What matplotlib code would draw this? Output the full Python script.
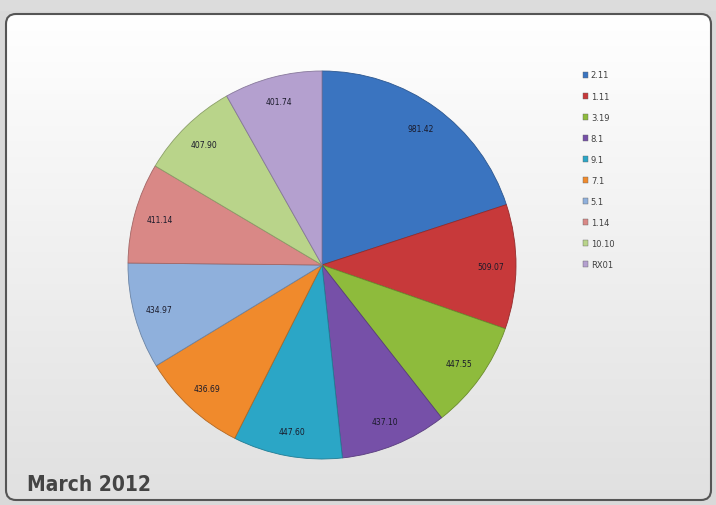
import numpy as np
import matplotlib
matplotlib.use("Agg")
import matplotlib.pyplot as plt
from matplotlib.patches import FancyBboxPatch, Rectangle, Patch

# data
labels = ["2.11", "1.11", "3.19", "8.1", "9.1", "7.1", "5.1", "1.14", "10.10", "RX01"]
values = [981.42, 509.07, 447.55, 437.10, 447.60, 436.69, 434.97, 411.14, 407.90, 401.74]
value_text = ["981.42", "509.07", "447.55", "437.10", "447.60", "436.69", "434.97", "411.14", "407.90", "401.74"]
colors = ["#3a74c0", "#c7393a", "#8ebb3c", "#7650a8", "#2ba6c6", "#f08a2c",
          "#8fb0dc", "#d98886", "#b9d48a", "#b4a0cf"]

W, H = 716, 506
fig = plt.figure(figsize=(W / 100, H / 100), dpi=100)
fig.patch.set_facecolor("#d9d9d9")

# top grey strip
fig.patches.append(Rectangle((0, 1 - 12 / H), 1, 12 / H, transform=fig.transFigure,
                             facecolor="#dcdcdc", edgecolor="none", zorder=0))

# panel with gradient
bg = fig.add_axes([0, 0, 1, 1], zorder=0)
bg.set_axis_off()
bg.set_xlim(0, W)
bg.set_ylim(H, 0)
grad = np.linspace(1.0, 0.0, 256).reshape(-1, 1)
img = bg.imshow(np.dstack([0.88 + 0.12 * grad] * 3), extent=[6, 711, 501, 15],
                aspect="auto", zorder=1)
panel = FancyBboxPatch((6, 15), 705, 486, boxstyle="round,pad=0,rounding_size=10",
                       facecolor="none", edgecolor="#555555", linewidth=1.5, zorder=2)
bg.add_patch(panel)
img.set_clip_path(panel)

# pie
R = 194
ax = fig.add_axes([(322 - R) / W, (H - 266 - R) / H, 2 * R / W, 2 * R / H], zorder=2)
wedges, _ = ax.pie(values, colors=colors, startangle=90, counterclock=False,
                   wedgeprops=dict(linewidth=0.6))
for w, c in zip(wedges, colors):
    rgb = np.array(matplotlib.colors.to_rgb(c)) * 0.75
    w.set_edgecolor(rgb)
# value labels near the rim
cum = 0
total = sum(values)
for v, t in zip(values, value_text):
    mid = 90 - (cum + v / 2) / total * 360
    cum += v
    r = 0.87
    ax.text(r * np.cos(np.radians(mid)), r * np.sin(np.radians(mid)), t,
            ha="center", va="center", fontsize=5.5, color="#1a1a2a")
ax.set_xlim(-1.0, 1.0)
ax.set_ylim(-1.0, 1.0)
ax.set_aspect("equal")

# legend
handles = [Patch(facecolor=c, edgecolor="#666666", linewidth=0.3) for c in colors]
fig.legend(handles, labels, loc="upper left", bbox_to_anchor=(575 / W, 1 - 64 / H),
           frameon=False, fontsize=6, labelspacing=1.45, handlelength=0.7,
           handleheight=0.7, handletextpad=0.3, labelcolor="#404040")

fig.text(27 / W, 1 - 491 / H, "March 2012", fontsize=15, color="#444444",
         family="DejaVu Sans", fontstretch="condensed", fontweight="bold",
         ha="left", va="baseline")

fig.savefig("out.png", dpi=100)
